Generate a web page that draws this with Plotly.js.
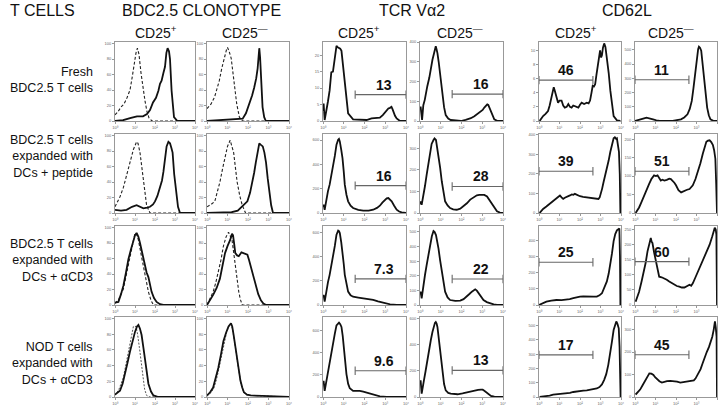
<!DOCTYPE html>
<html>
<head>
<meta charset="utf-8">
<script src="https://cdn.plot.ly/plotly-3.0.1.min.js"></script>
<style>
  html, body { margin: 0; padding: 0; background: #fff; }
  #chart { width: 720px; height: 405px; }
</style>
</head>
<body>
<div id="chart"></div>
<script>
// x = decade position on the 10^0..10^4 log scale, y = cell count

// Fresh BDC2.5 T cells
const freshCloPosControl = [[0,8],[0.15,12],[0.3,18],[0.45,22],[0.6,30],[0.75,40],[0.85,55],[0.95,72],[1.05,88],[1.12,94],[1.2,86],[1.3,62],[1.4,42],[1.5,26],[1.6,12],[1.7,4],[1.85,0],[4,0]];
const freshCloPosStained = [[0,0],[0.4,1],[0.8,4],[1.1,6],[1.4,6],[1.6,9],[1.75,14],[1.9,24],[2.05,30],[2.17,39],[2.25,48],[2.33,52],[2.42,62],[2.5,70],[2.57,88],[2.63,94],[2.7,90],[2.75,80],[2.83,39],[2.95,5],[3.12,0],[4,0]];
const freshCloNegControl = [[0,16],[0.2,22],[0.37,31],[0.5,42],[0.6,52],[0.72,68],[0.85,83],[0.95,92],[1.0,95],[1.08,90],[1.18,81],[1.26,62],[1.34,43],[1.45,22],[1.58,5],[1.74,0],[4,0]];
const freshCloNegStained = [[0,0],[0.8,1],[1.3,2],[1.74,3],[1.9,10],[2.06,22],[2.2,33],[2.3,43],[2.4,55],[2.47,68],[2.52,85],[2.55,94],[2.59,82],[2.63,64],[2.71,18],[2.79,5],[2.87,0],[4,0]];
const freshVa2Pos = [[0,3],[0.03,5.3],[0.08,0.3],[0.16,2.8],[0.24,6],[0.32,9.3],[0.4,14.8],[0.48,15],[0.56,19],[0.65,22.8],[0.71,22.4],[0.77,22.3],[0.83,22],[0.89,21.3],[0.97,16.3],[1.03,12],[1.08,9.3],[1.15,5],[1.21,2.3],[1.45,0.5],[1.8,0.3],[2.1,0.3],[2.34,0.8],[2.55,0.8],[2.74,1],[2.88,1.8],[2.98,2.5],[3.08,3.2],[3.15,3.8],[3.23,4],[3.3,4.3],[3.35,3.6],[3.39,2.8],[3.47,1.6],[3.55,0.8],[3.71,0],[4,0]];
const freshVa2Neg = [[0,60],[0.03,73],[0.1,5],[0.16,80],[0.23,107],[0.3,150],[0.35,175],[0.45,220],[0.52,268],[0.6,310],[0.68,344],[0.72,360],[0.76,378],[0.8,362],[0.84,344],[0.9,300],[0.97,242],[1.02,180],[1.08,124],[1.16,70],[1.24,30],[1.36,12],[1.48,5],[1.97,0],[2.2,6],[2.45,14],[2.62,24],[2.77,36],[2.9,46],[3.02,56],[3.1,68],[3.18,81],[3.24,84],[3.29,81],[3.36,64],[3.42,47],[3.5,25],[3.58,8],[3.74,0],[4,0]];
const freshCd62Pos = [[0.03,0],[0.2,0.7],[0.32,1.0],[0.44,1.4],[0.52,2.2],[0.61,3.3],[0.67,4.3],[0.72,4.8],[0.77,4.3],[0.82,3.8],[0.88,3.0],[0.93,2.6],[1.0,2.9],[1.1,2.9],[1.18,2.2],[1.26,1.9],[1.35,2.0],[1.43,2.4],[1.51,2.0],[1.59,1.9],[1.67,2.2],[1.75,2.1],[1.84,1.9],[1.92,1.9],[2.0,2.3],[2.08,2.6],[2.2,2.4],[2.33,2.6],[2.42,2.5],[2.49,2.9],[2.56,4.0],[2.62,5.0],[2.68,4.9],[2.74,5.2],[2.8,6.5],[2.85,7.4],[2.92,9.0],[2.98,10.0],[3.03,9.0],[3.07,9.3],[3.12,10.4],[3.18,11.0],[3.24,10.5],[3.31,9.0],[3.4,6.8],[3.48,4.3],[3.56,2.2],[3.64,0.7],[3.8,0.1],[3.97,0]];
const freshCd62Neg = [[0,0],[0.1,3],[0.24,9],[0.4,17],[0.56,24],[0.72,20],[0.88,12],[1.04,5],[1.2,0],[1.84,0],[2.05,4],[2.24,12],[2.4,25],[2.56,47],[2.67,85],[2.77,141],[2.85,230],[2.93,329],[2.98,400],[3.04,471],[3.08,505],[3.12,522],[3.17,515],[3.23,494],[3.29,420],[3.36,306],[3.44,190],[3.52,94],[3.6,40],[3.68,12],[3.84,0],[4,0]];

// BDC2.5 T cells expanded with DCs + peptide
const pepCloPosControl = [[0,8],[0.12,14],[0.25,21],[0.42,33],[0.58,48],[0.75,65],[0.92,82],[1.08,92],[1.15,90],[1.25,78],[1.33,60],[1.42,40],[1.5,24],[1.58,10],[1.75,0],[4,0]];
const pepCloPosStained = [[0,4],[0.3,3],[0.58,4],[0.85,8],[1.08,10],[1.25,8],[1.42,6],[1.6,7],[1.75,8],[1.9,11],[2.0,15],[2.12,22],[2.25,32],[2.35,42],[2.42,53],[2.5,70],[2.58,86],[2.67,92],[2.75,90],[2.82,84],[2.88,78],[2.96,50],[3.05,27],[3.15,8],[3.25,0],[4,0]];
const pepCloNegControl = [[0,8],[0.2,11],[0.38,15],[0.5,26],[0.63,40],[0.75,56],[0.88,73],[1.0,86],[1.13,94],[1.2,88],[1.3,78],[1.38,60],[1.47,40],[1.6,22],[1.72,10],[1.88,0],[4,0]];
const pepCloNegStained = [[0,0],[1.2,1],[1.5,3],[1.63,6],[1.8,10],[1.97,15],[2.1,26],[2.22,40],[2.3,52],[2.38,65],[2.47,80],[2.55,90],[2.63,88],[2.72,86],[2.8,78],[2.88,65],[2.96,45],[3.05,27],[3.13,10],[3.22,0],[4,0]];
const pepVa2Pos = [[0,50],[0.03,68],[0.08,27],[0.16,123],[0.24,180],[0.32,233],[0.4,300],[0.48,370],[0.57,470],[0.65,562],[0.69,590],[0.73,603],[0.77,610],[0.81,589],[0.88,520],[0.94,452],[1.0,340],[1.05,233],[1.13,150],[1.21,96],[1.33,60],[1.45,41],[1.7,26],[1.94,19],[2.2,20],[2.42,27],[2.6,42],[2.74,60],[2.86,85],[2.98,110],[3.07,120],[3.15,123],[3.22,112],[3.31,96],[3.43,60],[3.55,27],[3.67,12],[3.79,5],[4,0]];
const pepVa2Neg = [[0,40],[0.03,54],[0.08,38],[0.16,77],[0.24,125],[0.32,177],[0.4,230],[0.48,285],[0.56,320],[0.65,338],[0.7,345],[0.77,338],[0.83,305],[0.89,269],[0.97,210],[1.05,146],[1.13,95],[1.21,54],[1.33,35],[1.45,23],[1.6,17],[1.77,15],[1.94,20],[2.1,31],[2.26,45],[2.42,62],[2.58,74],[2.74,82],[2.86,84],[2.98,85],[3.1,84],[3.23,77],[3.35,60],[3.47,38],[3.59,20],[3.71,8],[3.85,2],[4,0]];
const pepCd62Pos = [[0.03,0],[0.2,21],[0.36,33],[0.52,47],[0.68,60],[0.85,72],[0.94,82],[1.02,90],[1.1,80],[1.18,72],[1.26,78],[1.34,81],[1.42,86],[1.51,90],[1.6,95],[1.68,93],[1.75,98],[1.85,92],[2.0,86],[2.15,83],[2.33,81],[2.5,79],[2.66,76],[2.8,75],[2.9,72],[2.96,80],[3.02,98],[3.08,125],[3.15,159],[3.23,192],[3.31,228],[3.4,270],[3.48,314],[3.56,350],[3.64,383],[3.7,388],[3.76,380],[3.8,383],[3.86,350],[3.9,314],[3.94,200],[3.97,0]];
const pepCd62Neg = [[0.03,0],[0.12,8],[0.2,15],[0.32,30],[0.44,47],[0.56,62],[0.69,79],[0.8,92],[0.93,102],[1.02,100],[1.1,102],[1.18,95],[1.26,88],[1.34,90],[1.43,88],[1.55,90],[1.67,93],[1.75,92],[1.84,88],[1.92,82],[2.0,75],[2.12,62],[2.25,56],[2.33,58],[2.41,61],[2.54,63],[2.66,65],[2.75,70],[2.82,75],[2.95,92],[3.07,111],[3.19,135],[3.31,161],[3.4,180],[3.48,193],[3.56,196],[3.64,197],[3.72,192],[3.8,184],[3.86,170],[3.92,147],[3.96,80],[4.0,0]];

// BDC2.5 T cells expanded with DCs + aCD3
const acdCloPosControl = [[0,2],[0.2,8],[0.42,21],[0.58,42],[0.75,63],[0.88,80],[1.0,93],[1.08,91],[1.17,84],[1.3,66],[1.42,51],[1.55,32],[1.67,17],[1.8,6],[1.92,0],[4,0]];
const acdCloPosStained = [[0,3],[0.17,4],[0.3,14],[0.42,25],[0.55,42],[0.67,59],[0.8,72],[0.92,84],[1.0,90],[1.08,93],[1.17,88],[1.25,80],[1.38,65],[1.5,51],[1.58,42],[1.67,36],[1.75,25],[1.83,17],[1.95,9],[2.08,4],[2.25,1],[2.42,0],[4,0]];
const acdCloNegControl = [[0,0],[0.15,8],[0.3,17],[0.42,28],[0.55,42],[0.68,58],[0.8,76],[0.93,88],[1.05,94],[1.13,90],[1.22,84],[1.3,68],[1.38,51],[1.47,32],[1.55,17],[1.63,7],[1.72,0],[4,0]];
const acdCloNegStained = [[0,0],[0.15,6],[0.3,13],[0.47,22],[0.63,34],[0.75,50],[0.88,67],[1.0,76],[1.13,84],[1.22,92],[1.27,90],[1.33,78],[1.38,67],[1.47,64],[1.55,63],[1.68,68],[1.8,67],[1.9,66],[1.97,65],[2.05,58],[2.13,50],[2.25,37],[2.38,25],[2.5,14],[2.63,6],[2.75,2],[2.88,0],[4,0]];
const acdVa2Pos = [[0,60],[0.03,83],[0.08,28],[0.16,125],[0.24,190],[0.32,250],[0.4,320],[0.48,389],[0.57,490],[0.65,583],[0.69,605],[0.73,617],[0.77,612],[0.81,597],[0.88,520],[0.94,444],[1.0,340],[1.05,250],[1.13,170],[1.21,111],[1.33,80],[1.45,69],[1.7,62],[1.94,56],[2.2,50],[2.42,42],[2.65,30],[2.9,19],[3.06,11],[3.23,6],[3.55,0],[4,0]];
const acdVa2Neg = [[0,70],[0.03,91],[0.08,46],[0.16,137],[0.24,205],[0.32,273],[0.4,340],[0.48,410],[0.57,470],[0.65,506],[0.7,500],[0.77,478],[0.83,440],[0.89,387],[0.97,305],[1.05,228],[1.13,150],[1.21,91],[1.33,52],[1.45,34],[1.7,28],[1.94,30],[2.1,40],[2.26,57],[2.38,75],[2.5,91],[2.58,102],[2.66,107],[2.74,98],[2.82,80],[2.94,55],[3.06,34],[3.22,20],[3.39,11],[3.55,4],[3.71,0],[4,0]];
const acdCd62Pos = [[0,0],[0.2,12],[0.36,21],[0.6,27],[0.85,31],[1.1,30],[1.34,31],[1.5,36],[1.67,42],[1.84,48],[2.0,52],[2.16,54],[2.33,52],[2.5,51],[2.66,52],[2.82,52],[2.95,60],[3.07,73],[3.19,105],[3.31,146],[3.4,195],[3.48,250],[3.56,320],[3.64,396],[3.72,440],[3.8,463],[3.86,470],[3.92,475],[3.95,300],[3.97,0]];
const acdCd62Neg = [[0.03,11],[0.1,25],[0.2,44],[0.32,78],[0.44,111],[0.52,140],[0.61,178],[0.69,200],[0.77,222],[0.81,210],[0.85,206],[0.93,175],[1.02,144],[1.1,115],[1.18,94],[1.3,92],[1.43,89],[1.55,84],[1.67,78],[1.8,72],[1.92,67],[2.04,63],[2.16,61],[2.28,58],[2.41,58],[2.54,62],[2.66,67],[2.74,64],[2.82,72],[2.95,92],[3.07,111],[3.23,134],[3.39,156],[3.52,178],[3.64,200],[3.77,228],[3.89,256],[3.94,250],[3.97,233],[4.0,0]];

// NOD T cells expanded with DCs + aCD3
const nodCloPosControl = [[0,2],[0.2,10],[0.42,25],[0.58,46],[0.75,67],[0.85,82],[0.92,90],[1.05,90],[1.13,80],[1.22,63],[1.3,44],[1.38,25],[1.48,10],[1.58,2],[1.75,0],[4,0]];
const nodCloPosStained = [[0,3],[0.12,5],[0.25,8],[0.38,17],[0.5,29],[0.62,43],[0.75,58],[0.88,72],[1.0,83],[1.1,90],[1.17,92],[1.25,87],[1.33,79],[1.42,63],[1.5,46],[1.58,30],[1.67,17],[1.8,7],[1.92,2],[2.17,0],[4,0]];
const nodCloNegControl = [[0,1],[0.18,5],[0.33,11],[0.46,22],[0.58,36],[0.7,52],[0.83,70],[0.96,83],[1.08,91],[1.17,93],[1.25,86],[1.33,74],[1.42,58],[1.5,42],[1.58,27],[1.67,15],[1.77,7],[1.9,3],[2.1,2],[2.7,1.5],[3.3,1],[4,0]];
const nodCloNegStained = [[0,2],[0.15,6],[0.3,12],[0.42,24],[0.55,37],[0.68,54],[0.8,71],[0.93,82],[1.05,90],[1.17,94],[1.23,90],[1.3,79],[1.38,65],[1.47,50],[1.55,35],[1.63,21],[1.72,12],[1.8,6],[1.95,3],[2.13,2],[2.7,1.5],[3.3,1],[4,0]];
const nodVa2Pos = [[0,120],[0.03,145],[0.08,55],[0.16,145],[0.24,220],[0.32,297],[0.4,390],[0.48,479],[0.57,570],[0.65,645],[0.71,660],[0.77,670],[0.83,655],[0.89,630],[0.95,550],[1.0,448],[1.06,320],[1.13,206],[1.21,120],[1.29,79],[1.45,55],[1.6,55],[1.77,55],[1.94,48],[2.1,39],[2.26,28],[2.42,18],[2.58,11],[2.74,6],[3.06,0],[4,0]];
const nodVa2Neg = [[0,110],[0.03,128],[0.08,26],[0.13,90],[0.19,128],[0.27,200],[0.35,282],[0.43,360],[0.52,436],[0.6,500],[0.68,551],[0.72,570],[0.76,577],[0.8,565],[0.84,538],[0.9,450],[0.97,359],[1.02,260],[1.08,179],[1.16,100],[1.24,51],[1.36,32],[1.48,26],[1.65,22],[1.81,21],[2.05,28],[2.29,38],[2.45,45],[2.61,51],[2.8,54],[2.94,57],[3.02,56],[3.1,48],[3.18,38],[3.3,20],[3.42,8],[3.58,2],[3.74,0],[4,0]];
const nodCd62Pos = [[0.03,0],[0.2,2],[0.36,5],[0.52,10],[0.69,17],[0.9,20],[1.18,21],[1.35,25],[1.51,29],[1.67,35],[1.84,40],[2.0,42],[2.16,45],[2.33,47],[2.49,50],[2.66,54],[2.82,60],[2.95,70],[3.07,88],[3.18,120],[3.28,160],[3.38,225],[3.48,302],[3.56,390],[3.64,469],[3.7,505],[3.77,529],[3.83,510],[3.89,481],[3.93,350],[3.96,150],[3.98,0]];
const nodCd62Neg = [[0.03,11],[0.14,22],[0.25,33],[0.37,52],[0.49,71],[0.6,90],[0.7,105],[0.8,104],[0.9,98],[0.98,88],[1.07,79],[1.19,70],[1.31,64],[1.43,68],[1.56,71],[1.72,72],[1.89,71],[2.05,68],[2.21,64],[2.38,66],[2.54,68],[2.7,70],[2.87,74],[2.95,82],[3.03,94],[3.12,108],[3.2,124],[3.3,150],[3.39,177],[3.5,200],[3.61,223],[3.7,245],[3.77,268],[3.84,300],[3.9,336],[3.94,310],[3.98,268],[4.0,0]];

// gates: [level, % positive] per row, in panel order va2+, va2-, cd62+, cd62-
const va2Gate = [1.55, 4];
const cd62Gate = [0, 2.63];
const freshGates = [[8, "13"], [136, "16"], [5.8, "46"], [290, "11"]];
const pepGates = [[225, "16"], [123, "28"], [214, "39"], [113, "51"]];
const acdGates = [[217, "7.3"], [178, "22"], [265, "25"], [144, "60"]];
const nodGates = [[236, "9.6"], [205, "13"], [295, "17"], [188, "45"]];

const decadeLabels = ["10⁰", "10¹", "10²", "10³", "10⁴"];
const columnHeads = ["CD25<sup>+</sup>", "CD25<sup>—</sup>", "CD25<sup>+</sup>", "CD25<sup>—</sup>", "CD25<sup>+</sup>", "CD25<sup>—</sup>"];
const rowLabels = [
  "Fresh<br>BDC2.5 T cells",
  "BDC2.5 T cells<br>expanded with<br>DCs + peptide",
  "BDC2.5 T cells<br>expanded with<br>DCs + αCD3",
  "NOD T cells<br>expanded with<br>DCs + αCD3",
];

const W = 720, H = 405;
const colPx = [[115, 195], [207, 289], [323, 406], [420, 503], [539, 621], [635, 717]];
const rowPx = [[42, 121], [134, 213], [226, 305], [317, 397]];
const headX = [156, 245, 359, 460, 576, 671];
const rowLabelY = [80, 156, 260, 363];

const rowsData = [
  { clo: [[freshCloPosControl, freshCloPosStained], [freshCloNegControl, freshCloNegStained]], hist: [freshVa2Pos, freshVa2Neg, freshCd62Pos, freshCd62Neg], gates: freshGates, yMax: [24, 400, 11.2, 555], dtick: [5, 100, 2, 100] },
  { clo: [[pepCloPosControl, pepCloPosStained], [pepCloNegControl, pepCloNegStained]], hist: [pepVa2Pos, pepVa2Neg, pepCd62Pos, pepCd62Neg], gates: pepGates, yMax: [650, 366, 405, 214], dtick: [200, 100, 100, 50] },
  { clo: [[acdCloPosControl, acdCloPosStained], [acdCloNegControl, acdCloNegStained]], hist: [acdVa2Pos, acdVa2Neg, acdCd62Pos, acdCd62Neg], gates: acdGates, yMax: [655, 540, 490, 262], dtick: [200, 100, 100, 50] },
  { clo: [[nodCloPosControl, nodCloPosStained], [nodCloNegControl, nodCloNegStained]], hist: [nodVa2Pos, nodVa2Neg, nodCd62Pos, nodCd62Neg], gates: nodGates, yMax: [720, 615, 560, 356], dtick: [200, 200, 100, 100] },
];

const solid = { color: "#111", width: 1.8 };
const dashed = { color: "#222", width: 1.1, dash: "3px,2px" };
const dotted = { color: "#444", width: 0.9, dash: "2px,1.5px" };

const axisStyle = {
  showline: true, mirror: true, linecolor: "#999", linewidth: 1,
  ticks: "outside", ticklen: 2, tickcolor: "#999",
  tickfont: { size: 4, color: "#666" },
  showgrid: false, zeroline: false, fixedrange: true,
};

const traces = [];
const annotations = [];
const layout = {
  width: W, height: H,
  margin: { l: 0, r: 0, t: 0, b: 0 },
  paper_bgcolor: "#fff", plot_bgcolor: "#fff",
  showlegend: false,
  font: { family: "Liberation Sans, Arial, sans-serif", color: "#111" },
};

let k = 0;
function addPanel(r, c, yMax, dtick) {
  k++;
  const s = k > 1 ? k : "";
  layout["xaxis" + s] = Object.assign({}, axisStyle, {
    domain: [colPx[c][0] / W, colPx[c][1] / W], range: [0, 4], anchor: "y" + s,
    tickvals: [0, 1, 2, 3, 4], ticktext: decadeLabels,
  });
  layout["yaxis" + s] = Object.assign({}, axisStyle, {
    domain: [1 - rowPx[r][1] / H, 1 - rowPx[r][0] / H], range: [0, yMax], anchor: "x" + s, dtick: dtick,
  });
  return { xaxis: "x" + s, yaxis: "y" + s };
}

function line(pts, ax, style) {
  traces.push(Object.assign({
    x: pts.map((d) => d[0]), y: pts.map((d) => d[1]),
    mode: "lines", line: style, hoverinfo: "skip",
  }, ax));
}

rowsData.forEach((row, r) => {
  row.clo.forEach((pair, c) => {
    const ax = addPanel(r, c, 102, 20);
    line(pair[0], ax, r === 3 ? dotted : dashed);
    line(pair[1], ax, solid);
  });
  row.hist.forEach((pts, j) => {
    const ax = addPanel(r, j + 2, row.yMax[j], row.dtick[j]);
    line(pts, ax, solid);
    const g = j < 2 ? va2Gate : cd62Gate;
    const [level, pct] = row.gates[j];
    traces.push(Object.assign({
      x: g, y: [level, level], mode: "lines+markers",
      line: { color: "#666", width: 1.1 },
      marker: { symbol: "line-ns-open", size: 6, line: { color: "#666", width: 1.1 } },
      hoverinfo: "skip",
    }, ax));
    annotations.push({
      xref: ax.xaxis, yref: ax.yaxis,
      x: j < 2 ? 2.95 : (g[0] + g[1]) / 2, y: level,
      text: "<b>" + pct + "</b>", showarrow: false,
      xanchor: "center", yanchor: "bottom", yshift: 0,
      font: { size: 14, color: "#111", family: "Liberation Sans Narrow, Liberation Sans, Arial" },
    });
  });
});

function paperText(text, x, y, size, xanchor, align) {
  annotations.push({
    xref: "paper", yref: "paper", x: x / W, y: 1 - y / H,
    text: text, showarrow: false, xanchor: xanchor || "center", yanchor: "middle",
    align: align || "center",
    font: { size: size, color: "#111" },
  });
}

paperText("T CELLS", 8, 11, 16, "left");
paperText("BDC2.5 CLONOTYPE", 201, 11, 16);
paperText("TCR Vα2", 412, 11, 16);
paperText("CD62L", 627, 11, 16);
columnHeads.forEach((t, i) => paperText(t, headX[i], 32, 14));
rowLabels.forEach((t, r) => paperText(t, 95, rowLabelY[r], 12.5, "right", "right"));

layout.annotations = annotations;

Plotly.newPlot("chart", traces, layout, { staticPlot: true, displayModeBar: false });
</script>
</body>
</html>
